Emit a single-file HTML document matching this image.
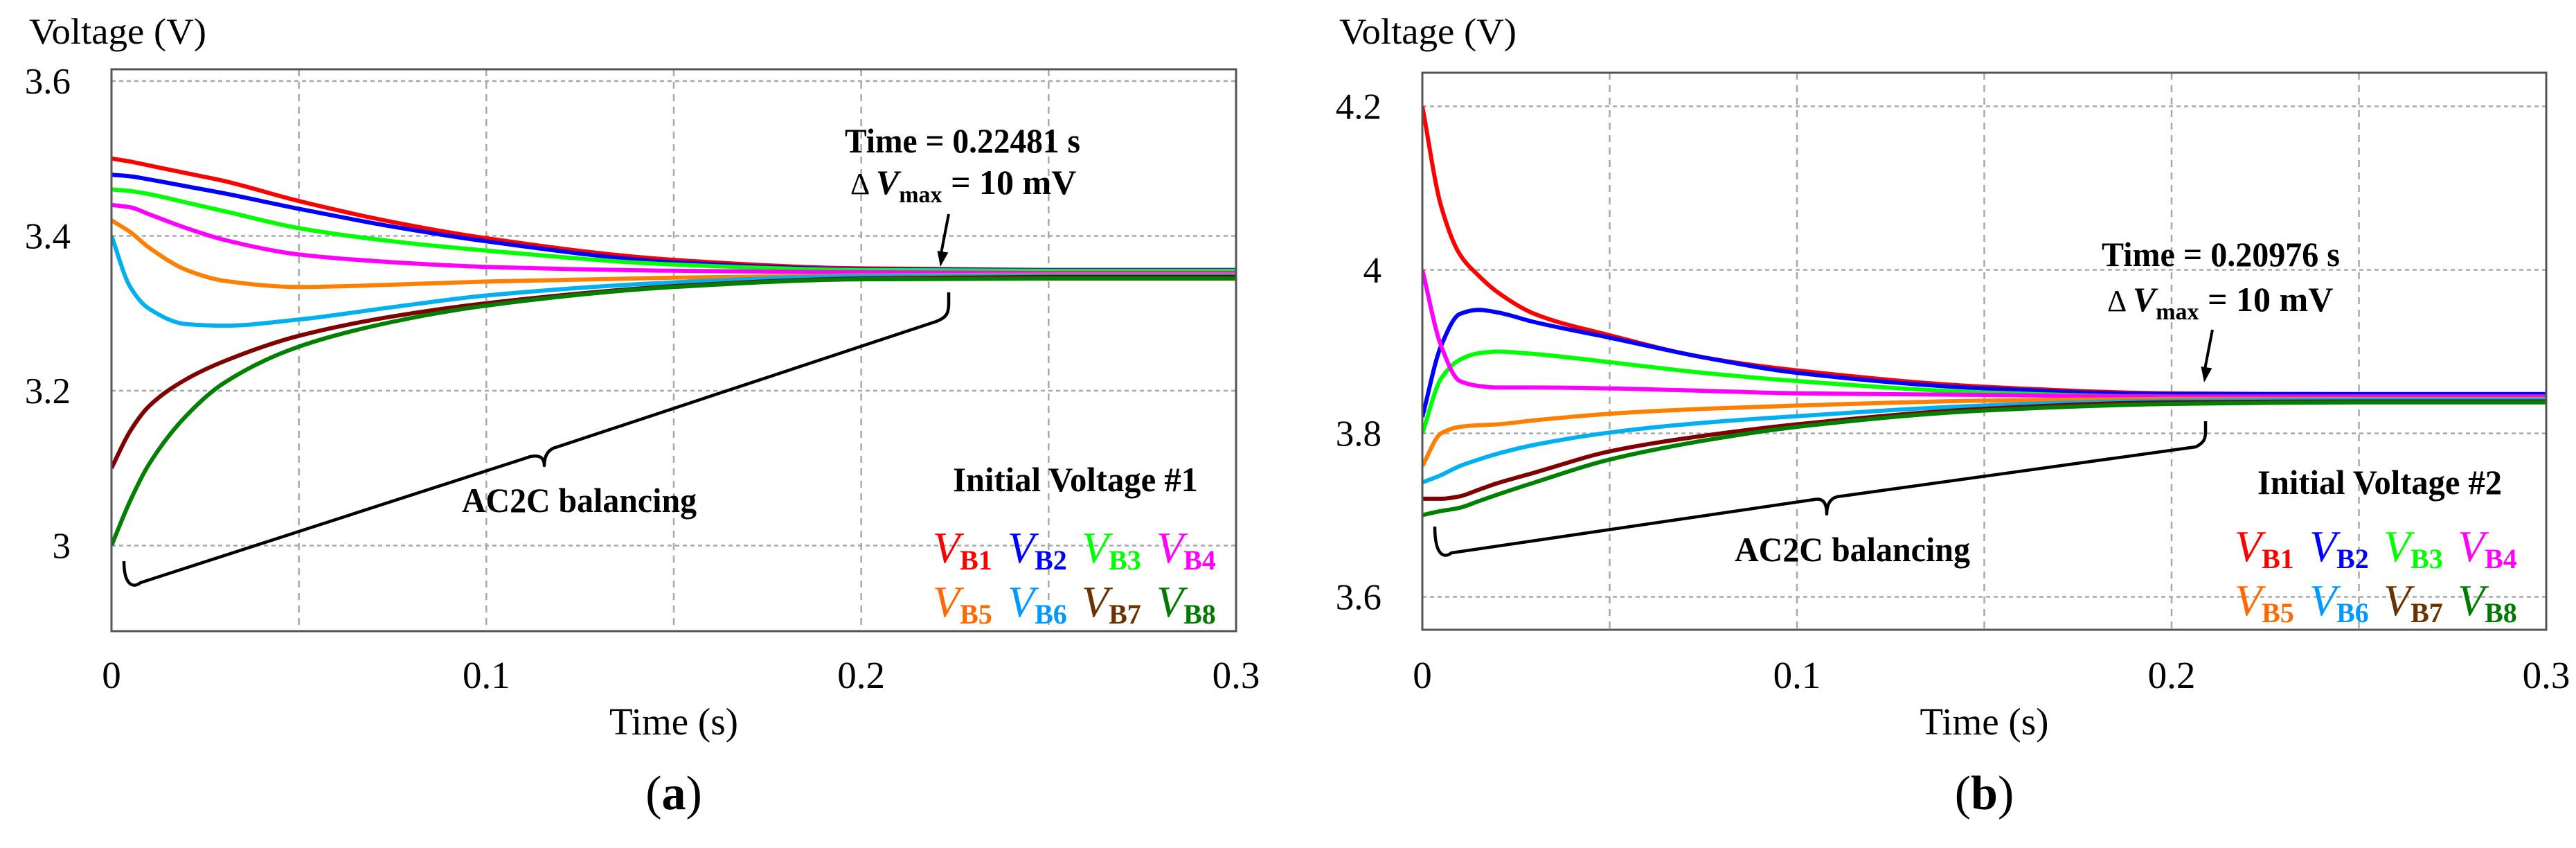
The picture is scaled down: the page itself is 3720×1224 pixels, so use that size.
<!DOCTYPE html>
<html><head><meta charset="utf-8"><style>
html,body{margin:0;padding:0;background:#fff;}
svg{display:block;font-family:"Liberation Serif",serif;}
</style></head><body>
<svg id="fig" width="3720" height="1224" viewBox="0 0 3720 1224" xmlns="http://www.w3.org/2000/svg"></svg>
<script>
// ---- data ----
const seriesNames = ["VB1","VB2","VB3","VB4","VB5","VB6","VB7","VB8"];
const seriesColors = ["#ff0000","#0000ff","#00ff00","#ff00ff","#ff7f00","#00b0f0","#800000","#008000"];
const legendColors = ["#ff0000","#0000ff","#00ff00","#ff00ff","#ff6a00","#0099ff","#6b3200","#007a00"];
const xTicks = [0,0.1,0.2,0.3];
const xTickLabels = ["0","0.1","0.2","0.3"];
const xGrid = [0.05,0.1,0.15,0.2,0.25];
// panel a
const tA = [0,0.005,0.01,0.02,0.03,0.05,0.075,0.1,0.15,0.2,0.25,0.3];
const aB1 = [3.500,3.496,3.491,3.481,3.471,3.445,3.418,3.397,3.369,3.358,3.356,3.356];
const aB2 = [3.479,3.477,3.473,3.464,3.455,3.435,3.412,3.393,3.366,3.357,3.356,3.356];
const aB3 = [3.460,3.458,3.454,3.443,3.432,3.410,3.393,3.381,3.363,3.356,3.355,3.355];
const aB4 = [3.440,3.437,3.428,3.410,3.395,3.376,3.366,3.360,3.355,3.353,3.352,3.352];
const aB5 = [3.420,3.405,3.385,3.356,3.342,3.334,3.337,3.341,3.346,3.349,3.350,3.350];
const aB6 = [3.400,3.334,3.306,3.286,3.284,3.292,3.308,3.323,3.340,3.348,3.349,3.349];
const aB7 = [3.100,3.148,3.180,3.215,3.238,3.271,3.296,3.313,3.335,3.345,3.347,3.347];
const aB8 = [3.000,3.058,3.105,3.168,3.210,3.257,3.289,3.310,3.334,3.344,3.345,3.345];
const aYTicks = [3.0,3.2,3.4,3.6];
const aYTickLabels = ["3","3.2","3.4","3.6"];
// panel b
const tB = [0,0.005,0.01,0.015,0.02,0.03,0.05,0.075,0.1,0.15,0.2,0.25,0.3];
const bB1 = [4.200,4.078,4.019,3.993,3.973,3.946,3.920,3.893,3.877,3.857,3.849,3.848,3.848];
const bB2 = [3.820,3.907,3.946,3.951,3.948,3.936,3.917,3.893,3.874,3.855,3.848,3.848,3.848];
const bB3 = [3.800,3.867,3.890,3.898,3.900,3.897,3.887,3.874,3.864,3.850,3.845,3.845,3.845];
const bB4 = [4.000,3.907,3.864,3.858,3.856,3.856,3.855,3.852,3.849,3.847,3.845,3.845,3.845];
const bB5 = [3.760,3.800,3.808,3.810,3.811,3.816,3.824,3.830,3.834,3.840,3.842,3.842,3.842];
const bB6 = [3.740,3.749,3.760,3.768,3.775,3.786,3.801,3.813,3.821,3.834,3.840,3.841,3.841];
const bB7 = [3.720,3.720,3.723,3.731,3.739,3.752,3.778,3.797,3.811,3.830,3.838,3.839,3.839];
const bB8 = [3.700,3.705,3.709,3.717,3.725,3.740,3.768,3.791,3.808,3.828,3.836,3.838,3.838];
const bYTicks = [3.6,3.8,4.0,4.2];
const bYTickLabels = ["3.6","3.8","4","4.2"];

const NS="http://www.w3.org/2000/svg";
const svg=document.getElementById('fig');
function mk(tag,attrs,parent){const e=document.createElementNS(NS,tag);for(const k in attrs)e.setAttribute(k,attrs[k]);(parent||svg).appendChild(e);return e;}

// monotone cubic (Fritsch-Carlson) in pixel space
function monoPath(pts){
  const n=pts.length,dx=[],dy=[],m=[],s=[];
  for(let i=0;i<n-1;i++){dx.push(pts[i+1][0]-pts[i][0]);dy.push(pts[i+1][1]-pts[i][1]);s.push(dy[i]/dx[i]);}
  m[0]=s[0];m[n-1]=s[n-2];
  for(let i=1;i<n-1;i++){
    if(s[i-1]*s[i]<=0)m[i]=0;
    else{const w1=2*dx[i]+dx[i-1],w2=dx[i]+2*dx[i-1];m[i]=(w1+w2)/(w1/s[i-1]+w2/s[i]);}
  }
  let d="M"+pts[0][0].toFixed(1)+","+pts[0][1].toFixed(1);
  for(let i=0;i<n-1;i++){
    const h=dx[i]/3;
    d+=" C"+(pts[i][0]+h).toFixed(1)+","+(pts[i][1]+m[i]*h).toFixed(1)+" "+(pts[i+1][0]-h).toFixed(1)+","+(pts[i+1][1]-m[i+1]*h).toFixed(1)+" "+pts[i+1][0].toFixed(1)+","+pts[i+1][1].toFixed(1);
  }
  return d;
}

function panel(cfg){
  const g=mk('g',{});
  
  
  const X=t=>cfg.x0+(t-0)/(0.3)*(cfg.x1-cfg.x0);
  const Y=v=>cfg.yA+(v-cfg.vA)/(cfg.vB-cfg.vA)*(cfg.yB-cfg.yA);
  const clipId=cfg.id+'-clip';
  const defs=mk('defs',{},g);
  const cp=mk('clipPath',{id:clipId},defs);
  mk('rect',{x:cfg.x0,y:cfg.top,width:cfg.x1-cfg.x0,height:cfg.bot-cfg.top},cp);
  xGrid.forEach(t=>{const l=mk('line',{x1:X(t),x2:X(t),y1:cfg.top,y2:cfg.bot,stroke:'#a8a8a8','stroke-width':2.5,'stroke-dasharray':'10 8'},g);
    });
  cfg.yTicks.forEach(v=>{const l=mk('line',{x1:cfg.x0,x2:cfg.x1,y1:Y(v),y2:Y(v),stroke:'#a8a8a8','stroke-width':2.5,'stroke-dasharray':'6 5'},g);
    });
  const sg=mk('g',{'clip-path':'url(#'+clipId+')'},g);
  cfg.series.forEach((arr,i)=>{
    const pts=arr.map((v,j)=>[X(cfg.t[j]),Y(v)]);
    const p=mk('path',{d:monoPath(pts),fill:'none',stroke:seriesColors[i],'stroke-width':6,'stroke-linejoin':'round'},sg);
    
    
  });
  const fr=mk('rect',{x:cfg.x0,y:cfg.top,width:cfg.x1-cfg.x0,height:cfg.bot-cfg.top,fill:'none',stroke:'#555','stroke-width':3},g);
  
  cfg.yTicks.forEach((v,i)=>{const t=mk('text',{x:cfg.yLabX,y:Y(v)+18,'text-anchor':'end','font-size':53,fill:'#000'},g);t.textContent=cfg.yTickLabels[i];
    });
  xTicks.forEach((v,i)=>{const t=mk('text',{x:X(v),y:993,'text-anchor':'middle','font-size':55,fill:'#000'},g);t.textContent=xTickLabels[i];
    });
  let t=mk('text',{x:cfg.vTitleX,y:63,'font-size':53,textLength:256,lengthAdjust:'spacingAndGlyphs'},g);t.textContent='Voltage (V)';
  
  t=mk('text',{x:(cfg.x0+cfg.x1)/2,y:1060,'font-size':55,'text-anchor':'middle'},g);t.textContent='Time (s)';
  
  t=mk('text',{x:(cfg.x0+cfg.x1)/2,y:1168,'font-size':70,'text-anchor':'middle'},g);
  t.innerHTML='(<tspan font-weight="bold">'+cfg.letter+'</tspan>)';
  
  const a=cfg.ann;
  t=mk('text',{x:a.tx,y:a.ty,'font-size':50,'font-weight':'bold',textLength:a.tw,lengthAdjust:'spacingAndGlyphs'},g);t.textContent=a.time;
  
  t=mk('text',{x:a.dx,y:a.dy,'font-size':50,'font-weight':'bold'},g);
  t.innerHTML='<tspan font-weight="normal" font-size="44">Δ </tspan><tspan font-style="italic">V</tspan><tspan font-size="34" dy="12">max</tspan><tspan dy="-12"> = 10 mV</tspan>';
  
  let l=mk('line',{x1:a.ar[0],y1:a.ar[1],x2:a.ar[2],y2:a.ar[3]-14,stroke:'#000','stroke-width':4},g);
  
  const ang=Math.atan2(a.ar[3]-a.ar[1],a.ar[2]-a.ar[0]);
  const hx=a.ar[2],hy=a.ar[3],L=22,W=8;
  const bx=hx-L*Math.cos(ang),by=hy-L*Math.sin(ang);
  const ah=mk('polygon',{points:hx+','+hy+' '+(bx+W*Math.sin(ang))+','+(by-W*Math.cos(ang))+' '+(bx-W*Math.sin(ang))+','+(by+W*Math.cos(ang)),fill:'#000'},g);
  
  const b=a.brace;
  const bd='M'+b[0]+' C'+b[0][0]+','+(b[1][1]+5)+' '+(b[1][0]-10)+','+(b[1][1]+8)+' '+b[1]+
    ' L'+b[2]+' Q'+b[3][0]+','+(b[2][1]-4)+' '+b[3]+' Q'+b[3][0]+','+(b[4][1]+4)+' '+b[4]+
    ' L'+b[5]+' C'+(b[6][0]+2)+','+(b[5][1]-8)+' '+(b[6][0])+','+(b[5][1]-15)+' '+b[6];
  const bp=mk('path',{d:bd,fill:'none',stroke:'#000','stroke-width':4.5,'stroke-linejoin':'round'},g);
  
  t=mk('text',{x:a.bx,y:a.by,'font-size':50,'font-weight':'bold',textLength:a.bw,lengthAdjust:'spacingAndGlyphs'},g);t.textContent='AC2C balancing';
  
  t=mk('text',{x:a.ix,y:a.iy,'font-size':50,'font-weight':'bold',textLength:a.iw,lengthAdjust:'spacingAndGlyphs'},g);t.textContent=a.init;
  
  seriesNames.forEach((n,i)=>{
    const col=i%4,row=Math.floor(i/4);
    const lt=mk('text',{x:cfg.legX[col],y:cfg.legY[row],fill:legendColors[i],'font-size':64},g);
    lt.innerHTML='<tspan font-style="italic">V</tspan><tspan font-size="40" font-weight="bold" dy="10">B'+(i+1)+'</tspan>';
    
    
  });
}

panel({id:'panel-a',letter:'a',x0:161,x1:1785,top:100,bot:911,yA:117,vA:3.6,yB:340.5,vB:3.4,
  t:tA,series:[aB1,aB2,aB3,aB4,aB5,aB6,aB7,aB8],yTicks:aYTicks,yTickLabels:aYTickLabels,yLabX:102,vTitleX:42,
  legX:[1347,1455,1562,1670],legY:[812,890],
  ann:{time:'Time = 0.22481 s',tx:1220,ty:220,tw:340,dx:1228,dy:280,ar:[1370,309,1358,385],
    brace:[[179,810],[203,841],[766,659],[786,672],[805,645],[1352,464],[1370,422]],
    bx:667,by:739,bw:339,init:'Initial Voltage #1',ix:1376,iy:709,iw:354}});
panel({id:'panel-b',letter:'b',x0:2054,x1:3677,top:105,bot:909,yA:153.5,vA:4.2,yB:389.5,vB:4.0,
  t:tB,series:[bB1,bB2,bB3,bB4,bB5,bB6,bB7,bB8],yTicks:bYTicks,yTickLabels:bYTickLabels,yLabX:1995,vTitleX:1934,
  legX:[3227,3335,3442,3549],legY:[810,888],
  ann:{time:'Time = 0.20976 s',tx:3035,ty:384,tw:344,dx:3043,dy:449,ar:[3195,476,3183,552],
    brace:[[2072,760],[2096,798],[2620,721],[2638,742],[2653,717],[3171,645],[3185,608]],
    bx:2505,by:810,bw:340,init:'Initial Voltage #2',ix:3260,iy:713,iw:353}});
</script>
</body></html>
